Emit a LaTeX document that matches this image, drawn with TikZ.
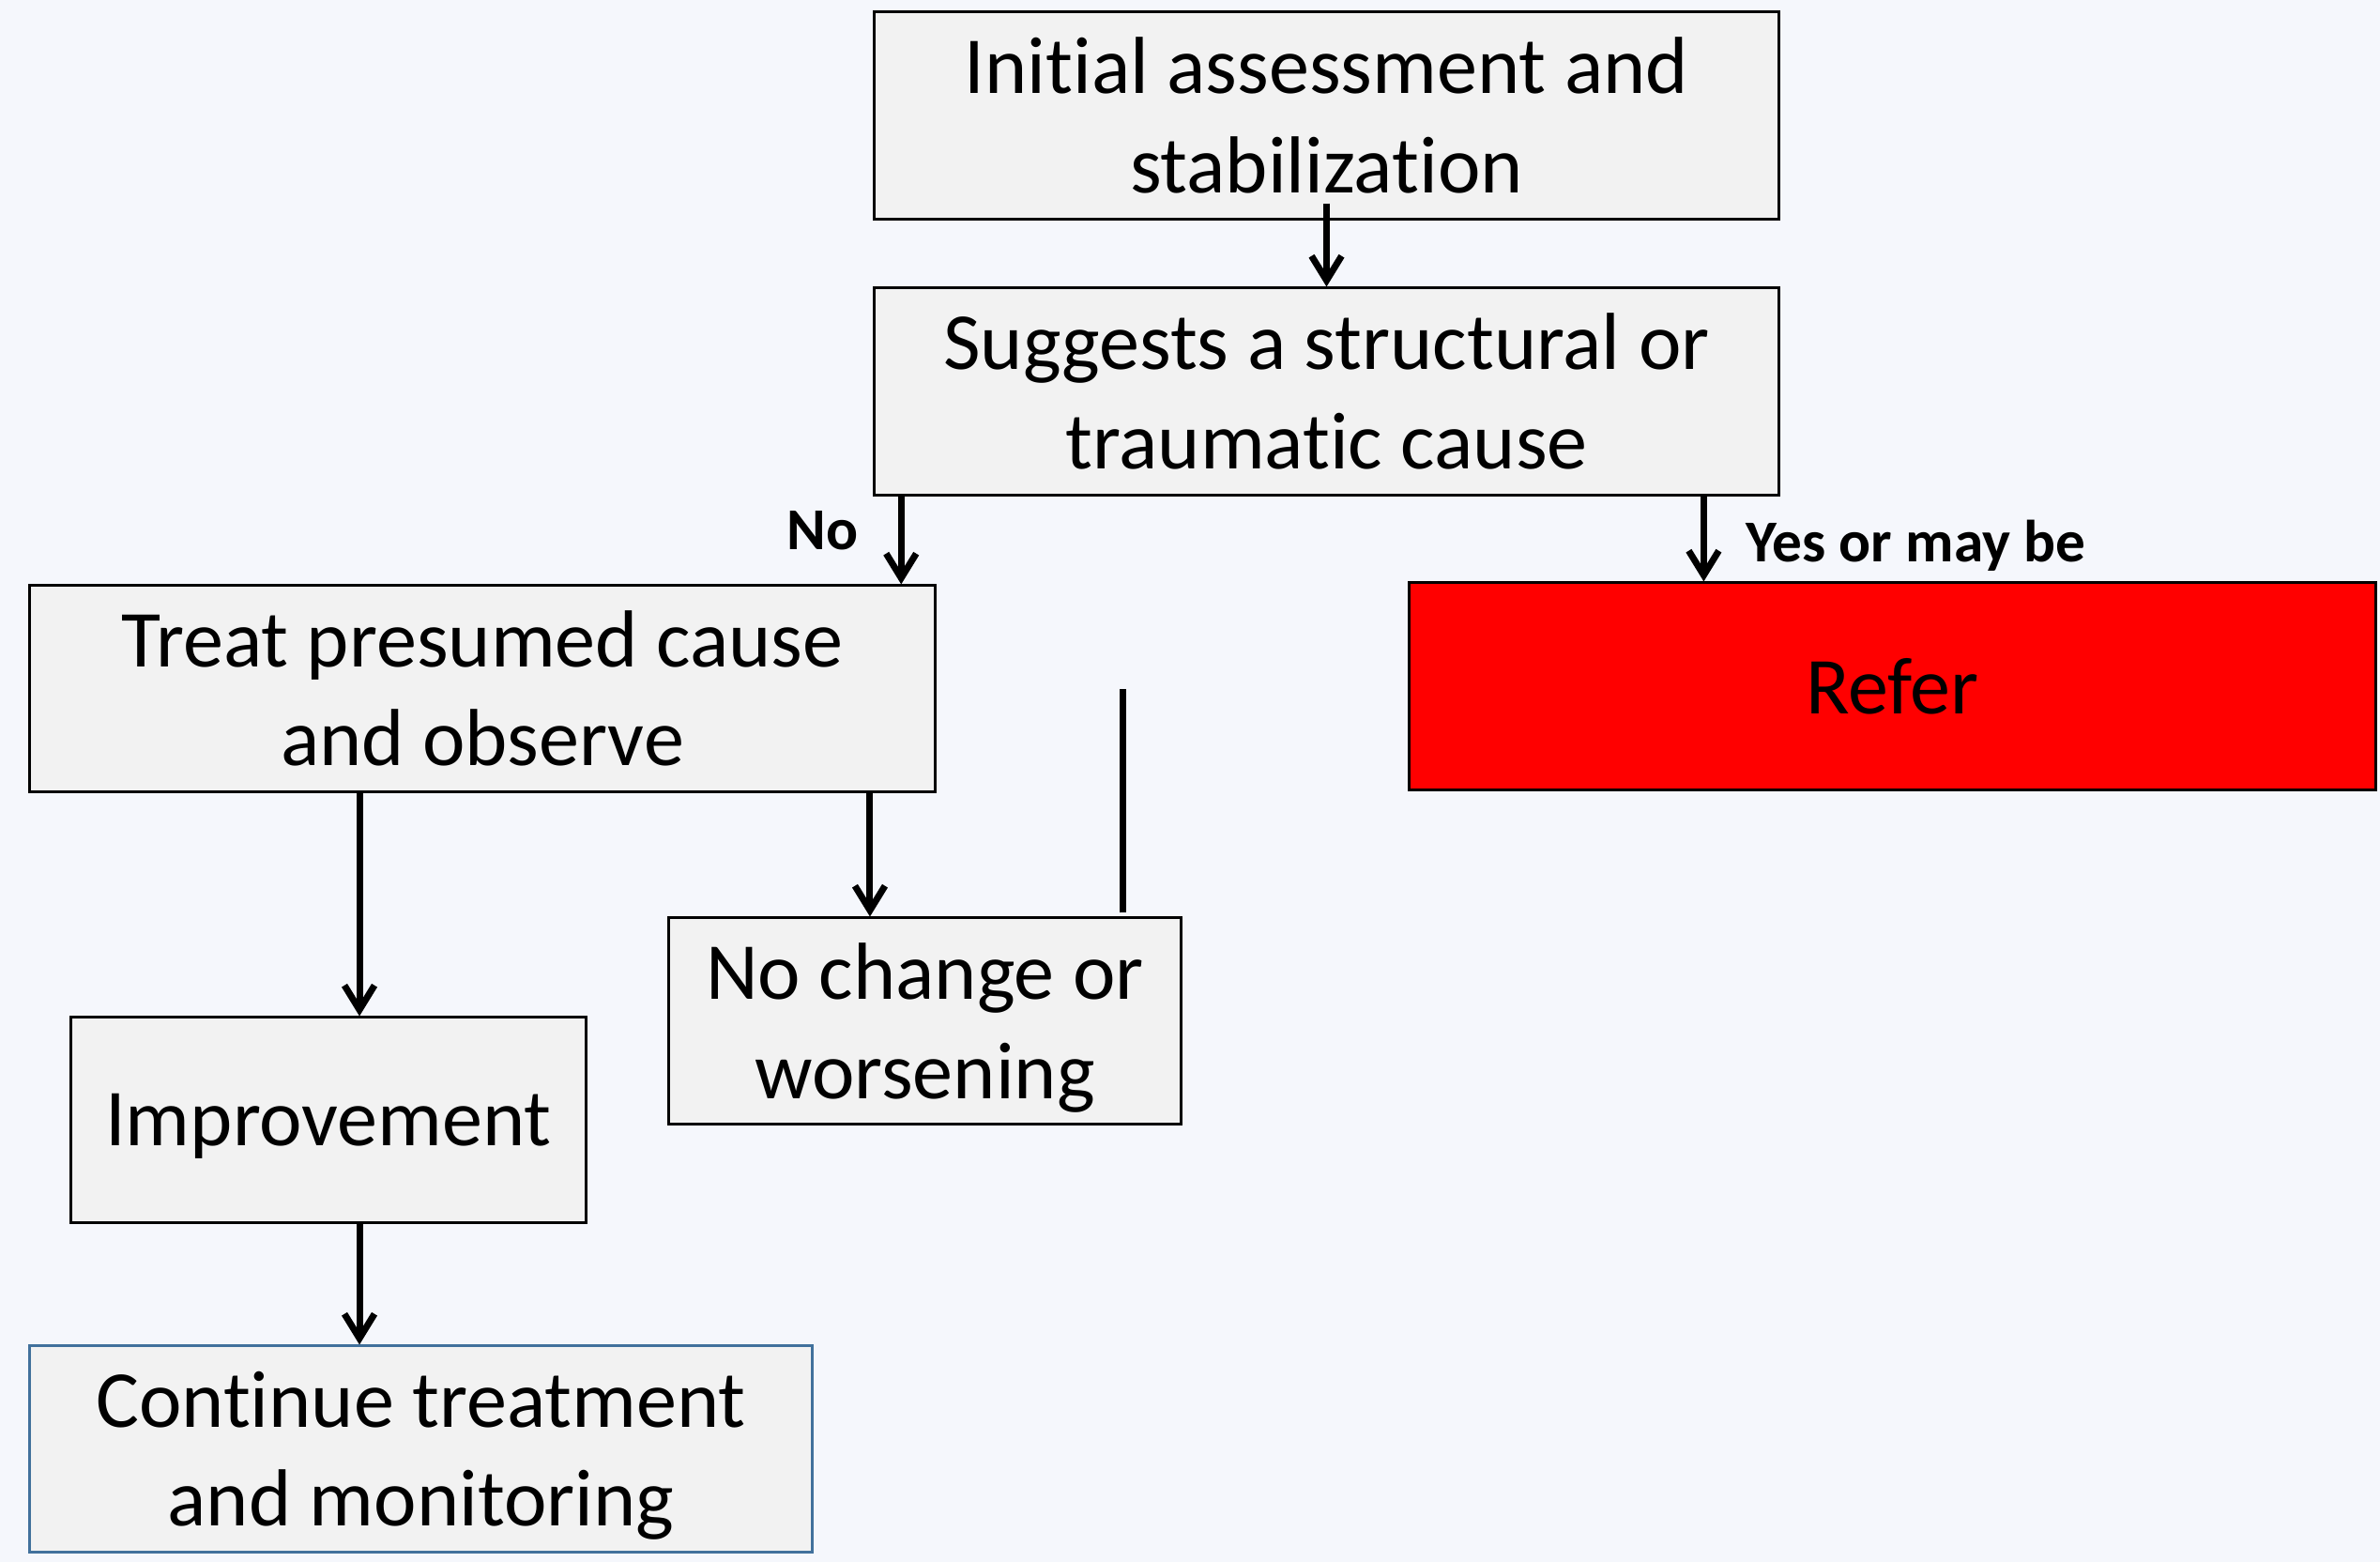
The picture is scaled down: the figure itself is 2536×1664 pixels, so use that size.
\documentclass[tikz,border=0pt]{standalone}
\usepackage{fontspec}
\setmainfont{Carlito}[Ligatures={NoCommon}]
\usetikzlibrary{arrows.meta}
\definecolor{bgc}{HTML}{F5F7FC}
\definecolor{boxfill}{HTML}{F2F2F2}
\definecolor{contborder}{HTML}{41719C}
\newcommand{\nodepth}[1]{\raisebox{0pt}[\height][0pt]{#1}}
\tikzset{
  stepbox/.style={draw=black, line width=0.85pt, fill=boxfill, inner sep=0pt,
    align=center, font=\fontsize{24.5}{30}\selectfont},
  arr/.style={line width=2pt, -{Straight Barb[length=2.6mm,width=3.2mm,line width=2pt]}},
  plainline/.style={line width=2pt},
  lbl/.style={font=\bfseries\fontsize{18}{22}\selectfont, inner sep=0pt}
}
\begin{document}
\begin{tikzpicture}[x=0.01cm,y=-0.01cm]
\fill[bgc] (0,0) rectangle (2536,1664);
\useasboundingbox (0,0) rectangle (2536,1664);
\node[stepbox, minimum width=9.63cm, minimum height=2.2cm] (b1) at (1413.5,123) {Initial assessment and\\stabilization};
\node[stepbox, minimum width=9.63cm, minimum height=2.2cm] (b2) at (1413.5,417) {Suggests a structural or\\traumatic cause};
\node[stepbox, minimum width=9.64cm, minimum height=2.19cm] (treat) at (514,733.5) {Treat presumed cause\\and observe};
\node[stepbox, fill=red, minimum width=10.29cm, minimum height=2.2cm] (refer) at (2016.5,731) {Refer};
\node[stepbox, minimum width=5.45cm, minimum height=2.19cm] (nochange) at (985.5,1087.5) {No change or\\\nodepth{worsening}};
\node[stepbox, minimum width=5.48cm, minimum height=2.18cm] (improve) at (350,1193) {\nodepth{Improvement}};
\node[stepbox, draw=contborder, minimum width=8.33cm, minimum height=2.19cm] (cont) at (448.5,1543.5) {Continue treatment\\\nodepth{and monitoring}};
\node[lbl, anchor=base east] (lno) at (915,585) {No};
\node[lbl, anchor=base west] (lyes) at (1860,598) {Yes or may be};
% connectors
\draw[arr] (b1.south) ++(0,-18) -- (b2.north);
\coordinate (x1) at ([xshift=0.3cm]b2.south west);
\draw[arr] (x1) -- (x1 |- treat.north);
\coordinate (x2) at ([xshift=3.15cm]refer.north west);
\draw[arr] (b2.south -| x2) -- (x2);
\coordinate (x3) at ([xshift=0.33cm]improve.north);
\draw[arr] (treat.south -| x3) -- (x3);
\draw[arr] (improve.south -| x3) -- (cont.north -| x3);
\coordinate (x4) at ([xshift=-0.585cm]nochange.north);
\draw[arr] (treat.south -| x4) -- (x4);
\coordinate (x5) at ([xshift=-0.63cm,yshift=0.04cm]nochange.north east);
\draw[plainline] (x5) -- (x5 |- treat.center);
\end{tikzpicture}
\end{document}
